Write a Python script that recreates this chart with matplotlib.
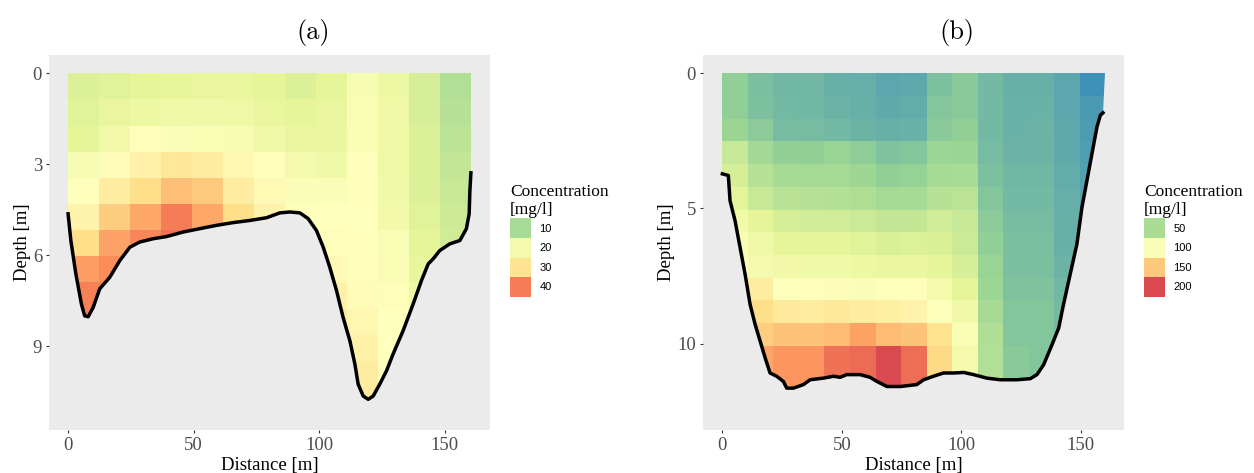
import numpy as np
import matplotlib
matplotlib.use("Agg")
import matplotlib.pyplot as plt
from matplotlib.colors import LinearSegmentedColormap, Normalize
from matplotlib.patches import Polygon, Patch
from matplotlib.font_manager import FontProperties

plt.rcParams["font.family"] = "Liberation Serif"

nan = np.nan

# RColorBrewer Spectral (7), low -> high
spectral = ["#3288BD", "#99D594", "#E6F598", "#FFFFBF", "#FEE08B", "#FC8D59", "#D53E4F"]
cmap = LinearSegmentedColormap.from_list("spectral_r", spectral)

# ---------------- panel (a) ----------------
width_a = 160.4          # cross-section width [m]
row_a = 0.861            # cell height [m]
conc_a = np.array([
    [15, 15.5, 16, 16.5, 17, 17, 16, 15, 16, 21, 18, 14.5, 11],
    [15.5, 17, 18, 19, 19, 18.5, 17, 16, 17, 21.5, 18.5, 14.5, 11.5],
    [16, 19.5, 22.5, 22, 21.5, 21, 18.5, 17, 17.5, 21.5, 18.5, 15, 12],
    [21, 24.5, 27, 29, 28, 25.5, 23, 20, 19, 23, 18.5, 15, 12.5],
    [23, 28, 31, 34, 33, 28, 25, 22, 22, 23, 19, 15, 13],
    [26.5, 32.5, 36, 40, 36, 31, 26.5, 23, 23.5, 23.5, 19.5, 15.5, 13.5],
    [31, 36.5, 39, 41, 38, nan, nan, nan, 24, 23, 21.5, 16, 14],
    [37, 38.5, nan, nan, nan, nan, nan, nan, 25, 24, 21.5, 17, nan],
    [39.5, 39.5, nan, nan, nan, nan, nan, nan, 27, 24.5, 22.5, 18.5, nan],
    [39.5, nan, nan, nan, nan, nan, nan, nan, 28.5, 25.5, 23.5, nan, nan],
    [nan, nan, nan, nan, nan, nan, nan, nan, 29, 27, 23.5, nan, nan],
    [nan, nan, nan, nan, nan, nan, nan, nan, nan, 28, 24, nan, nan],
    [nan, nan, nan, nan, nan, nan, nan, nan, nan, 28.5, 25, nan, nan],
])
bed_xa = [0, 1.1, 3.1, 5.3, 6.6, 8.0, 10, 12.6, 16.6, 20.6, 24.6, 28.5, 33.9, 39.2,
          45.8, 52.4, 59.1, 65.7, 72.3, 79, 84.3, 88.3, 92.3, 95.6, 98.9, 101.6,
          104.2, 106.9, 109.5, 112.2, 114.2, 115.5, 117.5, 119.5, 121.5, 124.1,
          126.8, 129.4, 133.4, 137.4, 140.7, 143.4, 145.4, 148, 152, 156, 158.6,
          159.7, 160, 160.4]
bed_ya = [4.63, 5.51, 6.61, 7.6, 7.99, 8.02, 7.71, 7.1, 6.72, 6.17, 5.73, 5.56, 5.45,
          5.38, 5.23, 5.12, 5.01, 4.92, 4.85, 4.76, 4.6, 4.57, 4.6, 4.79, 5.18, 5.73,
          6.39, 7.16, 8.04, 8.81, 9.58, 10.24, 10.63, 10.74, 10.63, 10.24, 9.8, 9.25,
          8.48, 7.6, 6.83, 6.28, 6.11, 5.84, 5.62, 5.51, 5.12, 4.63, 3.86, 3.28]
breaks_a = [10, 20, 30, 40]

# ---------------- panel (b) ----------------
width_b = 160.2
row_b = 0.84
conc_b = np.array([
    [40, 33, 30, 30, 27, 26, 23, 24, 34, 38, 31, 27.5, 27.5, 23, 14],
    [40, 34, 31, 30.5, 29, 27, 24.5, 25.5, 36, 38, 31, 28, 28, 23.5, 18],
    [43, 38.5, 32, 32, 31, 29, 27, 28, 38, 40, 31, 28, 28.5, 24, 19],
    [62, 47, 41, 40, 42, 39.5, 35, 36.5, 44, 43, 32, 28.5, 29, 25, 19.5],
    [68, 55, 48.5, 48, 48, 45, 40, 41.5, 48.5, 49, 34, 30, 30.5, 25.5, 20.5],
    [74, 62, 56, 55, 54, 52, 47.5, 48.5, 55, 56.5, 36.5, 31, 31, 26.5, 21],
    [90, 75, 68, 67, 66, 64, 60, 61, 66, 62, 38.5, 32, 32, 27, 22],
    [99, 86, 77, 76, 75, 73, 70, 71, 70, 64, 40, 33, 33, 27.5, nan],
    [110, 93, 89, 88, 87, 84, 82, 81, 77, 68, 42.5, 33.5, 33.5, 29, nan],
    [130, 128, 104, 103, 102, 101, 104, 103, 92, 75, 44, 35, 35, 30, nan],
    [nan, 140, 129, 128, 130, 128, 125, 121, 104, 88, 48.5, 36, 36, 31, nan],
    [nan, 147, 151, 151, 154, 164, 154, 151, 137, 100, 52, 36.5, 36.5, 32, nan],
    [nan, 163, 169, 169, 183, 186, 200, 185, 142, 92, 53, 38, 36, nan, nan],
    [nan, 163, 169, 169, 183, 186, 200, 185, 142, 92, 53, 38, 36, nan, nan],
])
bed_xb = [0, 2.5, 3.2, 5.3, 7.4, 9.5, 11.6, 13.7, 15.8, 17.9, 19.95, 22.7, 25.5, 26.9,
          29.7, 33.9, 36.7, 42.3, 46.5, 49.3, 52, 57.6, 61.8, 64.6, 68.8, 74.4, 81.3,
          84.2, 88.3, 92.5, 96.7, 100.9, 105.1, 110.6, 116.2, 123.2, 128.8, 131.6,
          134.4, 137.9, 140.7, 142.7, 145.5, 148.3, 150.4, 152.5, 154.6, 156.7,
          158.1, 159.2]
bed_yb = [3.72, 3.78, 4.71, 5.45, 6.44, 7.43, 8.55, 9.29, 9.91, 10.53, 11.09, 11.21,
          11.4, 11.65, 11.65, 11.52, 11.34, 11.28, 11.21, 11.25, 11.15, 11.15, 11.25,
          11.4, 11.59, 11.59, 11.52, 11.34, 11.21, 11.09, 11.09, 11.07, 11.15, 11.28,
          11.34, 11.34, 11.3, 11.15, 10.78, 10.04, 9.42, 8.55, 7.43, 6.32, 4.96, 3.97,
          2.97, 1.98, 1.55, 1.46]
breaks_b = [50, 100, 150, 200]


def panel(ax, conc, width, row_h, bed_x, bed_y, vmin, vmax, xlim, ylim, yticks):
    ax.set_facecolor("#EBEBEB")
    nrow, ncol = conc.shape
    xe = np.linspace(0, width, ncol + 1)
    ye = np.arange(nrow + 1) * row_h
    norm = Normalize(vmin, vmax)
    mesh = ax.pcolormesh(xe, ye, np.ma.masked_invalid(conc), cmap=cmap, norm=norm,
                         shading="flat", zorder=1)
    verts = [(0, 0), (0, bed_y[0])] + list(zip(bed_x, bed_y)) + [(width, 0)]
    clip = Polygon(verts, closed=True, transform=ax.transData, fill=False, lw=0)
    mesh.set_clip_path(clip)
    ax.plot(bed_x, bed_y, color="black", lw=2.5, zorder=3, solid_joinstyle="round")
    ax.set_xlim(*xlim)
    ax.set_ylim(*ylim)
    ax.set_xticks([0, 50, 100, 150])
    ax.set_yticks(yticks)
    for s in ax.spines.values():
        s.set_visible(False)
    ax.tick_params(length=2.5, width=0.8, color="#333333", labelcolor="#4D4D4D",
                   labelsize=13.5, pad=2.5)
    ax.set_xlabel("Distance [m]", fontsize=13.5, labelpad=2)
    ax.set_ylabel("Depth [m]", fontsize=13.5, labelpad=1.5)
    return norm


def legend(fig, norm, breaks, x, y):
    handles = [Patch(facecolor=cmap(norm(b)), edgecolor="none") for b in breaks]
    leg = fig.legend(handles, [str(b) for b in breaks], loc="upper left",
                     bbox_to_anchor=(x, y), frameon=False, borderpad=0,
                     labelspacing=0.0, handlelength=1.85, handleheight=2.33,
                     handletextpad=0.8, borderaxespad=0,
                     prop=FontProperties(family="Liberation Sans", size=8),
                     title="Concentration\n[mg/l]",
                     title_fontproperties=FontProperties(family="Liberation Serif", size=12.5),
                     alignment="left")
    leg.get_title().set_linespacing(1.2)
    return leg


W, H = 1254, 473
fig = plt.figure(figsize=(W / 100, H / 100), dpi=100)
ax_a = fig.add_axes([49 / W, 1 - 430 / H, 441 / W, 375 / H])
ax_b = fig.add_axes([703 / W, 1 - 430 / H, 421 / W, 375 / H])

norm_a = panel(ax_a, conc_a, width_a, row_a, bed_xa, bed_ya, 1, 46,
               (-7.6, 168), (11.75, -0.6), [0, 3, 6, 9])
norm_b = panel(ax_b, conc_b, width_b, row_b, bed_xb, bed_yb, 10, 205,
               (-8.1, 168), (13.2, -0.68), [0, 5, 10])

legend(fig, norm_a, breaks_a, 510 / W, 1 - 184 / H)
legend(fig, norm_b, breaks_b, 1144 / W, 1 - 184 / H)

fig.text(313 / W, 1 - 32 / H, "(a)", fontsize=19, family="cmr10", ha="center", va="center")
fig.text(957 / W, 1 - 32 / H, "(b)", fontsize=19, family="cmr10", ha="center", va="center")

fig.savefig("out.png", dpi=100)
